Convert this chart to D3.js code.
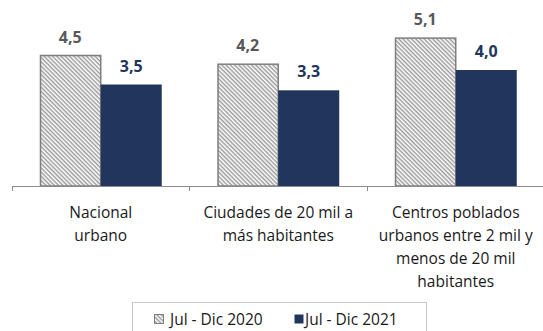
<!DOCTYPE html>
<html>
<head>
<meta charset="utf-8">
<script src="https://cdn.jsdelivr.net/npm/d3@7"></script>
<style>
  html, body { margin: 0; padding: 0; background: #ffffff; }
  svg { display: block; }
</style>
</head>
<body>
<div id="chart"></div>
<script>
// Categories (each split into lines for the axis labels)
const categories = ["Nacional urbano", "Ciudades de 20 mil a más habitantes", "Centros poblados urbanos entre 2 mil y menos de 20 mil habitantes"];
const categoryLines = [
  ["Nacional", "urbano"],
  ["Ciudades de 20 mil a", "más habitantes"],
  ["Centros poblados", "urbanos entre 2 mil y", "menos de 20 mil", "habitantes"]
];
const seriesNames = ["Jul - Dic 2020", "Jul - Dic 2021"];
const values2020 = [4.5, 4.2, 5.1];
const values2021 = [3.5, 3.3, 4.0];

const W = 543, H = 331;
const FONT = "'Open Sans', Lato, sans-serif";
const NAVY = "#22355d";
const GREY_TEXT = "#595959";

const svg = d3.select("#chart").append("svg")
  .attr("width", W).attr("height", H)
  .attr("font-family", FONT);

// diagonal hatch (top-left to bottom-right) for the 2020 series
const defs = svg.append("defs");
const pat = defs.append("pattern")
  .attr("id", "hatch")
  .attr("patternUnits", "userSpaceOnUse")
  .attr("width", 3).attr("height", 3)
  .attr("patternTransform", "rotate(45)");
pat.append("rect").attr("width", 3).attr("height", 3).attr("fill", "#ffffff");
pat.append("line")
  .attr("x1", 0).attr("y1", 0.75).attr("x2", 3).attr("y2", 0.75)
  .attr("stroke", "#8f8f8f").attr("stroke-width", 1.3);

const baseY = 186;
const x = d3.scaleBand()
  .domain(categories)
  .range([12, 544.5])
  .paddingInner(0.3127)
  .paddingOuter(0.1563);
const y = d3.scaleLinear().domain([0, 6]).range([baseY, 12]);
const sub = d3.scaleBand().domain(seriesNames).range([0, x.bandwidth()]);

const rows = categories.map((c, i) => ({ cat: c, v: [values2020[i], values2021[i]] }));

// bars
const groups = svg.append("g").selectAll("g").data(rows).join("g")
  .attr("transform", d => `translate(${x(d.cat)},0)`);

groups.append("rect")
  .attr("x", sub(seriesNames[0]) + 0.75)
  .attr("y", d => y(d.v[0]))
  .attr("width", sub.bandwidth() - 0.75)
  .attr("height", d => baseY - y(d.v[0]))
  .attr("fill", "url(#hatch)")
  .attr("stroke", "#7f7f7f").attr("stroke-width", 1.5);

groups.append("rect")
  .attr("x", sub(seriesNames[1]))
  .attr("y", d => y(d.v[1]))
  .attr("width", sub.bandwidth())
  .attr("height", d => baseY - y(d.v[1]))
  .attr("fill", NAVY);

// value labels
const fmt = v => d3.format(".1f")(v).replace(".", ",");
groups.append("text")
  .attr("x", sub(seriesNames[0]) + sub.bandwidth() / 2)
  .attr("y", d => y(d.v[0]) - 13)
  .attr("text-anchor", "middle")
  .attr("font-size", 16).attr("font-weight", "bold")
  .attr("fill", GREY_TEXT)
  .text(d => fmt(d.v[0]));
groups.append("text")
  .attr("x", sub(seriesNames[1]) + sub.bandwidth() / 2)
  .attr("y", d => y(d.v[1]) - 13)
  .attr("text-anchor", "middle")
  .attr("font-size", 16).attr("font-weight", "bold")
  .attr("fill", NAVY)
  .text(d => fmt(d.v[1]));

// category axis with ticks at band boundaries
const step = x.step();
const half = step * x.paddingInner() / 2;
const bounds = categories.map(c => x(c) - half).concat([x(categories[categories.length - 1]) + x.bandwidth() + half]);
const axis = svg.append("g");
axis.append("line")
  .attr("x1", bounds[0]).attr("x2", bounds[bounds.length - 1])
  .attr("y1", baseY + 0.5).attr("y2", baseY + 0.5)
  .attr("stroke", "#8c8c8c").attr("stroke-width", 1);
axis.selectAll("line.tick").data(bounds).join("line")
  .attr("class", "tick")
  .attr("x1", d => Math.round(d) + 0.5).attr("x2", d => Math.round(d) + 0.5)
  .attr("y1", baseY).attr("y2", baseY + 5)
  .attr("stroke", "#8c8c8c").attr("stroke-width", 1);

// category labels
const lbl = svg.append("g").selectAll("text").data(categories).join("text")
  .attr("text-anchor", "middle")
  .attr("font-size", 15.5)
  .attr("fill", "#1a1a1a")
  .attr("transform", d => `translate(${x(d) + x.bandwidth() / 2},0)`);
lbl.each(function(d, i) {
  d3.select(this).selectAll("tspan").data(categoryLines[i]).join("tspan")
    .attr("x", 0)
    .attr("y", (t, j) => 217.5 + j * 23)
    .text(t => t);
});

// legend
const lg = svg.append("g");
lg.append("rect")
  .attr("x", 132.5).attr("y", 302.5)
  .attr("width", 294).attr("height", 40)
  .attr("fill", "none").attr("stroke", "#c8c8c8").attr("stroke-width", 1);
const items = [
  { name: seriesNames[0], fill: "url(#hatch)", stroke: "#7f7f7f", x: 154, tx: 170 },
  { name: seriesNames[1], fill: NAVY, stroke: "none", x: 294, tx: 305 }
];
items.forEach(it => {
  lg.append("rect")
    .attr("x", it.x + 0.5).attr("y", 314.5).attr("width", 9).attr("height", 9)
    .attr("fill", it.fill).attr("stroke", it.stroke).attr("stroke-width", 1);
  lg.append("text")
    .attr("x", it.tx).attr("y", 324.5)
    .attr("font-size", 15.5).attr("fill", "#1a1a1a")
    .text(it.name);
});
</script>
</body>
</html>
